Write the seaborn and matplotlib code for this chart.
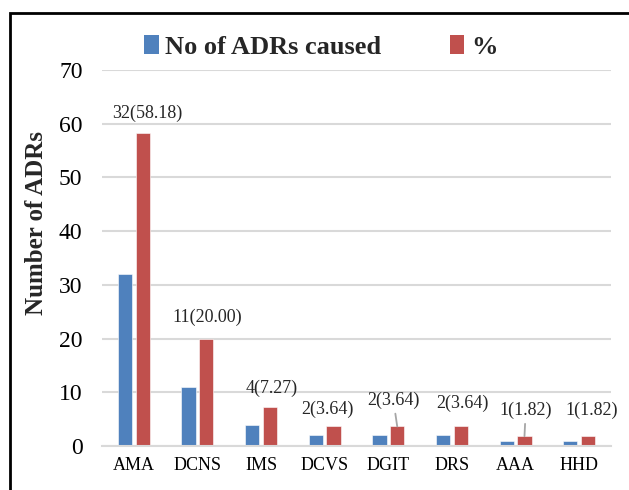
import matplotlib
matplotlib.use("Agg")
import matplotlib.pyplot as plt
from matplotlib.patches import Patch, Rectangle
import seaborn as sns
import pandas as pd

# data
drug_class = ["AMA", "DCNS", "IMS", "DCVS", "DGIT", "DRS", "AAA", "HHD"]
adr_count = [32, 11, 4, 2, 2, 2, 1, 1]
adr_percent = [58.18, 20.00, 7.27, 3.64, 3.64, 3.64, 1.82, 1.82]
series_names = ["No of ADRs caused", "%"]

# where the value labels sit (x offset from category centre, y in data units)
label_dx = [0.21, 0.15, 0.17, 0.05, 0.08, 0.16, 0.16, 0.20]
label_y = [62.0, 24.0, 10.8, 6.9, 8.5, 7.85, 6.6, 6.6]
leader = [False, False, False, False, True, False, True, False]

sns.set_theme(style="white")
plt.rcParams["font.family"] = ["Liberation Serif", "DejaVu Serif"]

df = pd.DataFrame({
    "cls": drug_class * 2,
    "value": adr_count + adr_percent,
    "series": [series_names[0]] * len(drug_class) + [series_names[1]] * len(drug_class),
})

colors = ["#4F81BD", "#C0504D"]

fig = plt.figure(figsize=(6.29, 4.9), dpi=100)
ax = fig.add_axes([102 / 629, 1 - 446 / 490, 509 / 629, 376 / 490])

sns.barplot(data=df, x="cls", y="value", hue="series", palette=colors,
            width=0.56, gap=0.2, ax=ax, legend=False, saturation=1,
            edgecolor="white", linewidth=0.4)

ax.set_ylim(0, 70)
ax.set_xlim(-0.5, len(drug_class) - 0.5)
ax.set_yticks(range(0, 71, 10))
ax.yaxis.grid(True, color="#D9D9D9", linewidth=1.5)
ax.set_axisbelow(True)
for s in ["left", "top", "right"]:
    ax.spines[s].set_visible(False)
ax.spines["bottom"].set_color("#D9D9D9")
ax.spines["bottom"].set_linewidth(1.5)
ax.tick_params(axis="y", length=0, pad=14, labelsize=17, colors="black")
ax.tick_params(axis="x", length=0, pad=8, labelsize=13, colors="black")
ax.set_xlabel("")
ax.set_ylabel("Number of ADRs", fontsize=18, fontweight="bold")
ax.yaxis.set_label_coords(-0.106, 0.594)

# value labels "n(pct)" near the red bars
red_bars = ax.containers[1]
for i, bar in enumerate(red_bars):
    txt = f"{adr_count[i]}({adr_percent[i]:.2f})"
    tx = i + label_dx[i]
    if leader[i]:
        ax.annotate(txt, xy=(bar.get_x() + bar.get_width() / 2, bar.get_height()),
                    xytext=(tx, label_y[i]), ha="center", va="center", fontsize=13,
                    arrowprops=dict(arrowstyle="-", color="#A6A6A6", lw=1.3,
                                    shrinkA=1, shrinkB=0))
    else:
        ax.text(tx, label_y[i], txt, ha="center", va="center", fontsize=13)

handles = [Patch(facecolor=c, edgecolor="none") for c in colors]
fig.legend(handles, series_names, loc="center", bbox_to_anchor=(0.51, 1 - 47 / 490),
           ncol=2, frameon=False, prop={"size": 19, "weight": "bold"},
           handlelength=0.55, handleheight=0.7, handletextpad=0.25, columnspacing=2.6)

# outer frame of the original figure
fig.patches.append(Rectangle((9.5 / 629, -0.1), 1.2, 1.1 - 13 / 490,
                             transform=fig.transFigure, fill=False,
                             edgecolor="black", linewidth=2))

fig.savefig("out.png", dpi=100)
